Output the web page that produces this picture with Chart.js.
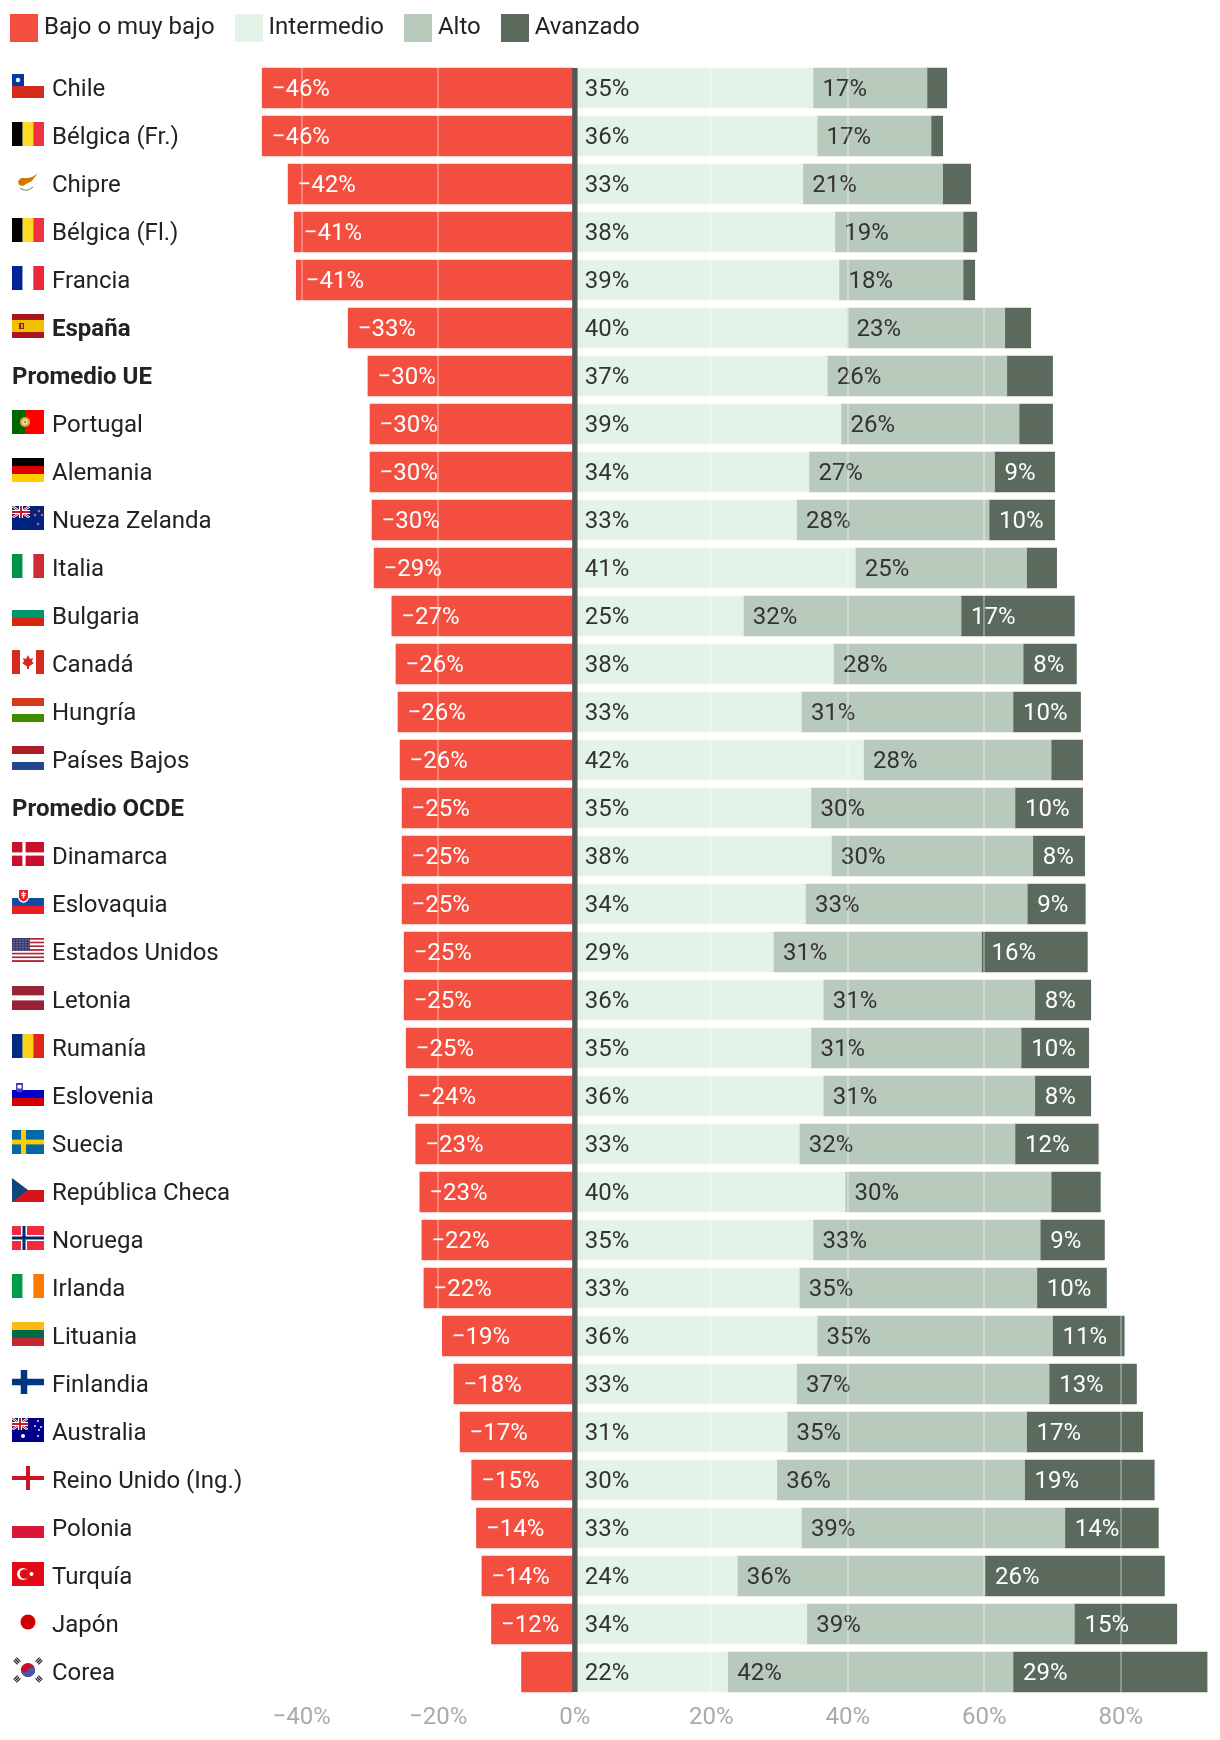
<!DOCTYPE html>
<html lang="es">
<head>
<meta charset="utf-8">
<title>Competencia por niveles</title>
<script src="https://cdn.jsdelivr.net/npm/chart.js@4"></script>
<style>
  html, body { margin: 0; padding: 0; background: #fff; }
  #wrap { position: relative; width: 1220px; height: 1740px; font-family: Roboto, sans-serif; }
  #legend { position: absolute; left: 10px; top: 14px; display: flex; gap: 20px; font-size: 24px; color: #222; }
  #legend div { display: flex; gap: 6px; }
  #legend i { display: block; width: 28px; height: 28px; }
  #legend span { line-height: 28px; position: relative; top: -2px; }
  canvas { display: block; }
</style>
</head>
<body>
<div id="wrap">
  <div id="legend"></div>
  <canvas id="chart" width="1220" height="1740"></canvas>
</div>
<script>
const categories = ['Chile', 'Bélgica (Fr.)', 'Chipre', 'Bélgica (Fl.)', 'Francia', 'España', 'Promedio UE',
  'Portugal', 'Alemania', 'Nueza Zelanda', 'Italia', 'Bulgaria', 'Canadá', 'Hungría', 'Países Bajos',
  'Promedio OCDE', 'Dinamarca', 'Eslovaquia', 'Estados Unidos', 'Letonia', 'Rumanía', 'Eslovenia', 'Suecia',
  'República Checa', 'Noruega', 'Irlanda', 'Lituania', 'Finlandia', 'Australia', 'Reino Unido (Ing.)',
  'Polonia', 'Turquía', 'Japón', 'Corea'];
const boldCategories = ['España', 'Promedio UE', 'Promedio OCDE'];

const bajo = [-45.8, -45.8, -42.0, -41.1, -40.8, -33.2, -30.3, -30.0, -30.0, -29.7, -29.4, -26.8, -26.2, -25.9,
  -25.6, -25.3, -25.3, -25.3, -25.0, -25.0, -24.7, -24.4, -23.3, -22.7, -22.4, -22.1, -19.4, -17.7, -16.8, -15.1,
  -14.4, -13.6, -12.2, -7.8];
const intermedio = [34.9, 35.5, 33.4, 38.1, 38.7, 39.9, 37.0, 39.0, 34.3, 32.5, 41.1, 24.7, 37.9, 33.2, 42.3,
  34.6, 37.6, 33.8, 29.1, 36.4, 34.6, 36.4, 32.9, 39.6, 34.9, 32.9, 35.5, 32.5, 31.1, 29.6, 33.2, 23.8, 34.0, 22.4];
const alto = [16.7, 16.7, 20.5, 18.8, 18.2, 23.1, 26.3, 26.1, 27.2, 28.2, 25.1, 31.9, 27.8, 31.0, 27.5,
  29.9, 29.5, 32.5, 30.5, 31.0, 30.8, 31.0, 31.6, 30.2, 33.3, 34.8, 34.5, 37.0, 35.1, 36.3, 38.6, 36.3, 39.2, 41.8];
const avanzado = [2.9, 1.7, 4.1, 2.0, 1.7, 3.8, 6.7, 4.9, 8.8, 9.6, 4.4, 16.6, 7.8, 9.9, 4.6,
  9.9, 7.6, 8.5, 15.5, 8.2, 9.9, 8.2, 12.2, 7.2, 9.4, 10.2, 10.5, 12.8, 17.0, 19.0, 13.7, 26.3, 15.0, 28.5];
const xTicks = [-40, -20, 0, 20, 40, 60, 80];

const seriesNames = ['Bajo o muy bajo', 'Intermedio', 'Alto', 'Avanzado'];
const seriesValues = [bajo, intermedio, alto, avanzado];
const seriesColors = ['#f44e41', '#e4f3e7', '#b8cabb', '#5b6a5c'];
const labelColors = ['#fff', '#333', '#333', '#fff'];
const minLabel = [10, 5, 5, 7.5]; // por debajo de esto no se rotula el segmento
const labelInset = [9.5, 9, 9.5, 10];

const FONT = 'Roboto, sans-serif';
const fmt = v => (v < 0 ? '\u2212' : '') + Math.abs(v) + '%';

// leyenda
seriesNames.forEach((name, i) => {
  const item = document.createElement('div');
  item.innerHTML = '<i style="background:' + seriesColors[i] + '"></i><span>' + name + '</span>';
  document.getElementById('legend').appendChild(item);
});

// banderas, en un cuadro de 32x24
function hStripes(c, colors, stops) {
  const s = stops || colors.map((_, i) => i * 24 / colors.length).concat(24);
  colors.forEach((col, i) => { c.fillStyle = col; c.fillRect(0, s[i], 32, s[i + 1] - s[i]); });
}
function vStripes(c, colors, stops) {
  const s = stops || colors.map((_, i) => i * 32 / colors.length).concat(32);
  colors.forEach((col, i) => { c.fillStyle = col; c.fillRect(s[i], 0, s[i + 1] - s[i], 24); });
}
function cross(c, color, cx, cy, t) {
  c.fillStyle = color;
  c.fillRect(cx - t / 2, 0, t, 24);
  c.fillRect(0, cy - t / 2, 32, t);
}
function disc(c, color, x, y, r) {
  c.fillStyle = color;
  c.beginPath();
  c.arc(x, y, r, 0, Math.PI * 2);
  c.fill();
}
function unionJack(c, w, h) {
  c.fillStyle = '#00247d';
  c.fillRect(0, 0, w, h);
  c.save();
  c.beginPath(); c.rect(0, 0, w, h); c.clip();
  c.strokeStyle = '#fff'; c.lineWidth = 2.4;
  c.beginPath(); c.moveTo(0, 0); c.lineTo(w, h); c.moveTo(w, 0); c.lineTo(0, h); c.stroke();
  c.strokeStyle = '#cf142b'; c.lineWidth = 1;
  c.stroke();
  c.restore();
  c.fillStyle = '#fff';
  c.fillRect(w / 2 - 2, 0, 4, h); c.fillRect(0, h / 2 - 2, w, 4);
  c.fillStyle = '#cf142b';
  c.fillRect(w / 2 - 1, 0, 2, h); c.fillRect(0, h / 2 - 1, w, 2);
}
const flags = {
  'Chile': c => {
    hStripes(c, ['#fff', '#d52b1e']);
    c.fillStyle = '#0039a6'; c.fillRect(0, 0, 12, 12);
    disc(c, '#fff', 6, 6, 2.2);
  },
  'Bélgica (Fr.)': c => vStripes(c, ['#000', '#fdda24', '#ef3340']),
  'Bélgica (Fl.)': c => vStripes(c, ['#000', '#fdda24', '#ef3340']),
  'Chipre': c => {
    c.fillStyle = '#d57800';
    c.beginPath();
    c.moveTo(6, 11); c.lineTo(9, 8); c.lineTo(16, 8); c.lineTo(20, 7); c.lineTo(26, 3.5); c.lineTo(22, 8);
    c.lineTo(20, 11); c.lineTo(14, 14); c.lineTo(11, 16); c.lineTo(7, 15);
    c.closePath(); c.fill();
    c.strokeStyle = '#6f7d58'; c.lineWidth = 1;
    c.beginPath(); c.moveTo(8, 18); c.quadraticCurveTo(14, 23, 21, 17); c.stroke();
  },
  'Francia': c => vStripes(c, ['#002395', '#fff', '#ed2939']),
  'España': c => {
    hStripes(c, ['#aa151b', '#f1bf00', '#aa151b'], [0, 6, 18, 24]);
    c.fillStyle = '#ad1519'; c.fillRect(7, 9, 5, 6);
    c.fillStyle = '#c8a13e'; c.fillRect(9, 10, 2, 4);
  },
  'Portugal': c => {
    vStripes(c, ['#006600', '#ff0000'], [0, 13, 32]);
    disc(c, '#d9b52a', 13, 12, 5); disc(c, '#e8e0d0', 13, 12, 2.8); disc(c, '#c77', 13, 12, 1.3);
  },
  'Alemania': c => hStripes(c, ['#000', '#dd0000', '#ffce00']),
  'Nueza Zelanda': c => {
    hStripes(c, ['#00247d']);
    unionJack(c, 18, 12);
    [[27, 5], [23, 9], [30, 9], [26, 18]].forEach(p => disc(c, '#e4566a', p[0], p[1], 1.3));
  },
  'Italia': c => vStripes(c, ['#009246', '#fff', '#ce2b37']),
  'Bulgaria': c => hStripes(c, ['#fff', '#00966e', '#d62612']),
  'Canadá': c => {
    vStripes(c, ['#d52b1e', '#fff', '#d52b1e'], [0, 8, 24, 32]);
    c.fillStyle = '#d52b1e';
    c.beginPath();
    c.moveTo(16, 5); c.lineTo(18, 9); c.lineTo(21, 8); c.lineTo(20, 12); c.lineTo(22, 13); c.lineTo(17, 16.5);
    c.lineTo(17, 19); c.lineTo(15, 19); c.lineTo(15, 16.5); c.lineTo(10, 13); c.lineTo(12, 12); c.lineTo(11, 8);
    c.lineTo(14, 9);
    c.closePath(); c.fill();
  },
  'Hungría': c => hStripes(c, ['#d33a17', '#fff', '#3e8e04']),
  'Países Bajos': c => hStripes(c, ['#ae1c28', '#fff', '#21468b']),
  'Dinamarca': c => {
    hStripes(c, ['#c8102e']);
    cross(c, '#fff', 12, 12, 3.2);
  },
  'Eslovaquia': c => {
    hStripes(c, ['#fff', '#0b4ea2', '#ee1c25']);
    c.fillStyle = '#fff';
    c.beginPath(); c.moveTo(6, 0); c.lineTo(17, 0); c.lineTo(17, 8); c.quadraticCurveTo(16, 12, 11.5, 13);
    c.quadraticCurveTo(7, 12, 6, 8); c.closePath(); c.fill();
    c.fillStyle = '#ee1c25';
    c.beginPath(); c.moveTo(7, 0); c.lineTo(16, 0); c.lineTo(16, 7.5); c.quadraticCurveTo(15, 10.5, 11.5, 11.8);
    c.quadraticCurveTo(8, 10.5, 7, 7.5); c.closePath(); c.fill();
    c.fillStyle = '#fff'; c.fillRect(10.8, 1.5, 1.4, 7); c.fillRect(9, 3, 5, 1.2); c.fillRect(9.5, 5, 4, 1.2);
  },
  'Estados Unidos': c => {
    for (let i = 0; i < 13; i++) {
      c.fillStyle = i % 2 ? '#fff' : '#b22234';
      c.fillRect(0, i * 24 / 13, 32, 24 / 13);
    }
    c.fillStyle = '#3c3b6e'; c.fillRect(0, 0, 18, 13);
    c.fillStyle = '#a9abc4';
    for (let x = 1.5; x < 18; x += 3) for (let y = 1.5; y < 13; y += 2.5) c.fillRect(x, y, 1, 1);
  },
  'Letonia': c => hStripes(c, ['#9a2235', '#fff', '#9a2235'], [0, 9.6, 14.4, 24]),
  'Rumanía': c => vStripes(c, ['#002b7f', '#fcd116', '#e0251a']),
  'Eslovenia': c => {
    hStripes(c, ['#fff', '#0000c8', '#d20000']);
    c.fillStyle = '#4040c0'; c.fillRect(4, 1, 7, 6);
    disc(c, '#4040c0', 7.5, 7, 3.5);
    c.fillStyle = '#fff'; c.fillRect(5.5, 3, 4, 3.5);
  },
  'Suecia': c => {
    hStripes(c, ['#006aa7']);
    c.fillStyle = '#fecc00'; c.fillRect(9, 0, 5, 24); c.fillRect(0, 9.6, 32, 4.8);
  },
  'República Checa': c => {
    hStripes(c, ['#fff', '#d7141a']);
    c.fillStyle = '#11457e';
    c.beginPath(); c.moveTo(0, 0); c.lineTo(16, 12); c.lineTo(0, 24); c.closePath(); c.fill();
  },
  'Noruega': c => {
    hStripes(c, ['#ef2b3d']);
    cross(c, '#fff', 12, 12, 6);
    cross(c, '#002868', 12, 12, 3);
  },
  'Irlanda': c => vStripes(c, ['#009b48', '#fff', '#ff7900']),
  'Lituania': c => hStripes(c, ['#fdb913', '#006a44', '#c1272d']),
  'Finlandia': c => cross(c, '#003580', 12, 12, 6.5),
  'Australia': c => {
    hStripes(c, ['#00008b']);
    unionJack(c, 16, 12);
    disc(c, '#fff', 11, 18, 2);
    [[26, 3], [23, 8], [29, 9], [26, 18], [27, 12]].forEach(p => disc(c, '#fff', p[0], p[1], 0.9));
  },
  'Reino Unido (Ing.)': c => cross(c, '#ce1124', 16, 12, 4),
  'Polonia': c => hStripes(c, ['#fff', '#dc143c']),
  'Turquía': c => {
    hStripes(c, ['#e30a17']);
    disc(c, '#fff', 11, 12, 6);
    disc(c, '#e30a17', 12.6, 12, 4.8);
    disc(c, '#fff', 19.5, 12, 2);
  },
  'Japón': c => disc(c, '#d00000', 16, 12, 7.5),
  'Corea': c => {
    disc(c, '#c60c30', 16, 12, 7);
    c.fillStyle = '#3f5fa8';
    c.beginPath(); c.arc(16, 12, 7, -0.3, Math.PI - 0.3); c.fill();
    disc(c, '#c60c30', 12.6, 10.9, 3.5);
    disc(c, '#3f5fa8', 19.4, 13.1, 3.5);
    c.strokeStyle = '#111'; c.lineWidth = 1.1;
    [[5, 3, 1], [27, 3, -1], [5, 21, -1], [27, 21, 1]].forEach(p => {
      for (let k = -2; k <= 2; k += 2) {
        const dx = k * 0.7, dy = k * 0.7 * -p[2];
        c.beginPath();
        c.moveTo(p[0] + dx - 2 * p[2], p[1] + dy - 2);
        c.lineTo(p[0] + dx + 2 * p[2], p[1] + dy + 2);
        c.stroke();
      }
    });
  }
};

// etiquetas de valor dentro de cada segmento
const segmentLabels = {
  id: 'segmentLabels',
  afterDatasetsDraw(chart) {
    const c = chart.ctx;
    c.save();
    c.font = '24px ' + FONT;
    c.textAlign = 'left';
    c.textBaseline = 'middle';
    chart.data.datasets.forEach((ds, d) => {
      chart.getDatasetMeta(d).data.forEach((bar, i) => {
        const v = ds.data[i];
        if (Math.abs(v) < minLabel[d]) return;
        c.fillStyle = labelColors[d];
        c.fillText(fmt(Math.round(v)), Math.min(bar.x, bar.base) + labelInset[d], bar.y + 2);
      });
    });
    c.restore();
  }
};

// banderas y nombres de cada fila, y la linea del cero encima de todo
const rowLabels = {
  id: 'rowLabels',
  afterDraw(chart) {
    const c = chart.ctx;
    const y = chart.scales.y;
    const x = chart.scales.x;
    c.save();
    c.textAlign = 'left';
    c.textBaseline = 'middle';
    categories.forEach((name, i) => {
      const cy = y.getPixelForValue(i);
      if (flags[name]) {
        c.save();
        c.translate(12, cy - 14);
        flags[name](c);
        c.restore();
      }
      c.fillStyle = '#222';
      c.font = (boldCategories.includes(name) ? '700 ' : '400 ') + '24px ' + FONT;
      c.fillText(name, flags[name] ? 52 : 12, cy + 2);
    });
    const x0 = x.getPixelForValue(0);
    const barHalf = chart.getDatasetMeta(0).data[0].height / 2;
    c.fillStyle = '#565656';
    c.fillRect(x0 - 2.6, y.getPixelForValue(0) - barHalf, 5.4, y.getPixelForValue(categories.length - 1) - y.getPixelForValue(0) + barHalf * 2);
    c.restore();
  }
};

new Chart(document.getElementById('chart').getContext('2d'), {
  type: 'bar',
  data: {
    labels: categories,
    datasets: seriesNames.map((name, i) => ({
      label: name,
      data: seriesValues[i],
      backgroundColor: seriesColors[i],
      borderWidth: 0,
      barThickness: 40
    }))
  },
  options: {
    indexAxis: 'y',
    responsive: false,
    animation: false,
    layout: { padding: { left: 260.8, right: 12.5, top: 64, bottom: 0 } },
    plugins: { legend: { display: false }, tooltip: { enabled: false } },
    scales: {
      y: { stacked: true, display: false },
      x: {
        stacked: true,
        min: -46,
        max: 92.7,
        afterBuildTicks(scale) { scale.ticks = xTicks.map(v => ({ value: v })); },
        afterFit(scale) { scale.height = 44; },
        border: { display: false },
        grid: { z: 1, drawTicks: false, lineWidth: 2, color: 'rgba(255,255,255,0.3)' },
        ticks: {
          autoSkip: false,
          maxRotation: 0,
          padding: 8,
          color: '#aaa',
          font: { family: FONT, size: 24 },
          callback: v => fmt(v)
        }
      }
    }
  },
  plugins: [segmentLabels, rowLabels]
});
</script>
</body>
</html>
